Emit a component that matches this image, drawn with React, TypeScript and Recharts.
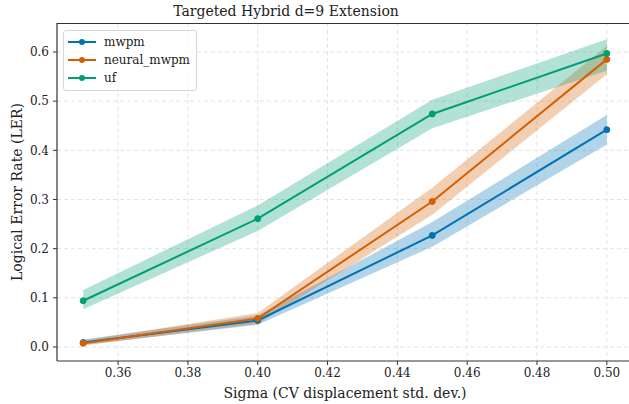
import {
  Area,
  CartesianGrid,
  ComposedChart,
  Legend,
  Line,
  XAxis,
  YAxis,
} from "recharts";

const sigma = [0.35, 0.4, 0.45, 0.5];

const mwpm = [0.009, 0.054, 0.227, 0.442];
const mwpmLow = [0.004, 0.045, 0.204, 0.412];
const mwpmHigh = [0.015, 0.064, 0.254, 0.472];

const neural = [0.0075, 0.058, 0.296, 0.585];
const neuralLow = [0.003, 0.047, 0.269, 0.555];
const neuralHigh = [0.013, 0.069, 0.324, 0.612];

const uf = [0.094, 0.261, 0.474, 0.597];
const ufLow = [0.077, 0.236, 0.445, 0.562];
const ufHigh = [0.116, 0.288, 0.503, 0.626];

const xTicks = [0.36, 0.38, 0.4, 0.42, 0.44, 0.46, 0.48, 0.5];
const yTicks = [0, 0.1, 0.2, 0.3, 0.4, 0.5, 0.6];

const BLUE = "#0072b2";
const ORANGE = "#d55e00";
const GREEN = "#009e73";

const data = sigma.map((s, i) => ({
  sigma: s,
  mwpm: mwpm[i],
  neural_mwpm: neural[i],
  uf: uf[i],
  mwpmBand: [mwpmLow[i], mwpmHigh[i]],
  neuralBand: [neuralLow[i], neuralHigh[i]],
  ufBand: [ufLow[i], ufHigh[i]],
}));

const legendItems = [
  { name: "mwpm", color: BLUE },
  { name: "neural_mwpm", color: ORANGE },
  { name: "uf", color: GREEN },
];

const font = "'DejaVu Serif', serif";

function LegendBox() {
  return (
    <div
      style={{
        border: "1px solid #d6d6d6",
        borderRadius: 3,
        background: "rgba(255,255,255,0.8)",
        padding: "2px 6px 3px 4px",
        fontFamily: font,
        fontSize: 12,
        color: "#222",
        width: 122,
      }}
    >
      {legendItems.map((it) => (
        <div key={it.name} style={{ display: "flex", alignItems: "center", height: 18 }}>
          <svg width={28} height={10} style={{ marginRight: 8 }}>
            <line x1={0} y1={5} x2={28} y2={5} stroke={it.color} strokeWidth={2} />
            <circle cx={14} cy={5} r={3} fill={it.color} />
          </svg>
          <span>{it.name}</span>
        </div>
      ))}
    </div>
  );
}

export default function App() {
  const tick = { fontFamily: font, fontSize: 12, fill: "#222" };
  return (
    <div
      style={{
        position: "absolute",
        left: 0,
        top: 0,
        width: 629,
        height: 404,
        overflow: "hidden",
        background: "#fff",
      }}
    >
      <div
        style={{
          position: "absolute",
          top: 3,
          left: 286,
          transform: "translateX(-50%)",
          fontFamily: font,
          fontSize: 14,
          color: "#222",
          whiteSpace: "nowrap",
        }}
      >
        Targeted Hybrid d=9 Extension
      </div>
      <ComposedChart
        width={640}
        height={404}
        data={data}
        margin={{ top: 23, right: 7, left: 0, bottom: 0 }}
      >
        <CartesianGrid
          stroke="#e3e3e3"
          strokeDasharray="4 3"
          horizontalValues={yTicks}
          verticalValues={xTicks}
        />
        <XAxis
          dataKey="sigma"
          type="number"
          domain={[0.3425, 0.5075]}
          ticks={xTicks}
          allowDataOverflow
          tickFormatter={(v: number) => v.toFixed(2)}
          tick={tick}
          tickSize={4}
          tickMargin={3}
          height={43}
          stroke="#333"
          axisLine={{ stroke: "#333", strokeWidth: 1.2 }}
          label={{
            value: "Sigma (CV displacement std. dev.)",
            position: "insideBottom",
            offset: 6,
            style: { fontFamily: font, fontSize: 14, fill: "#222" },
          }}
        />
        <YAxis
          type="number"
          domain={[-0.0285, 0.659]}
          ticks={yTicks}
          allowDataOverflow
          tickFormatter={(v: number) => v.toFixed(1)}
          tick={tick}
          tickSize={4}
          tickMargin={4}
          width={57}
          stroke="#333"
          axisLine={{ stroke: "#333", strokeWidth: 1.2 }}
          label={{
            value: "Logical Error Rate (LER)",
            angle: -90,
            position: "insideLeft",
            offset: 17,
            style: { fontFamily: font, fontSize: 14, fill: "#222", textAnchor: "middle" },
          }}
        />
        <Area
          dataKey="mwpmBand"
          type="linear"
          stroke="none"
          fill={BLUE}
          fillOpacity={0.3}
          isAnimationActive={false}
          legendType="none"
          activeDot={false}
        />
        <Area
          dataKey="neuralBand"
          type="linear"
          stroke="none"
          fill={ORANGE}
          fillOpacity={0.3}
          isAnimationActive={false}
          legendType="none"
          activeDot={false}
        />
        <Area
          dataKey="ufBand"
          type="linear"
          stroke="none"
          fill={GREEN}
          fillOpacity={0.3}
          isAnimationActive={false}
          legendType="none"
          activeDot={false}
        />
        <Line
          dataKey="mwpm"
          type="linear"
          stroke={BLUE}
          strokeWidth={2}
          dot={{ r: 3, fill: BLUE, stroke: BLUE, strokeWidth: 1 }}
          isAnimationActive={false}
        />
        <Line
          dataKey="neural_mwpm"
          type="linear"
          stroke={ORANGE}
          strokeWidth={2}
          dot={{ r: 3, fill: ORANGE, stroke: ORANGE, strokeWidth: 1 }}
          isAnimationActive={false}
        />
        <Line
          dataKey="uf"
          type="linear"
          stroke={GREEN}
          strokeWidth={2}
          dot={{ r: 3, fill: GREEN, stroke: GREEN, strokeWidth: 1 }}
          isAnimationActive={false}
        />
        <Legend
          layout="vertical"
          align="center"
          verticalAlign="middle"
          content={() => <LegendBox />}
          wrapperStyle={{ left: 63, top: 30, width: "auto" }}
        />
      </ComposedChart>
      {/* top spine */}
      <div
        style={{
          position: "absolute",
          left: 57,
          top: 23,
          width: 600,
          height: 0,
          borderTop: "1.2px solid #333",
        }}
      />
    </div>
  );
}
